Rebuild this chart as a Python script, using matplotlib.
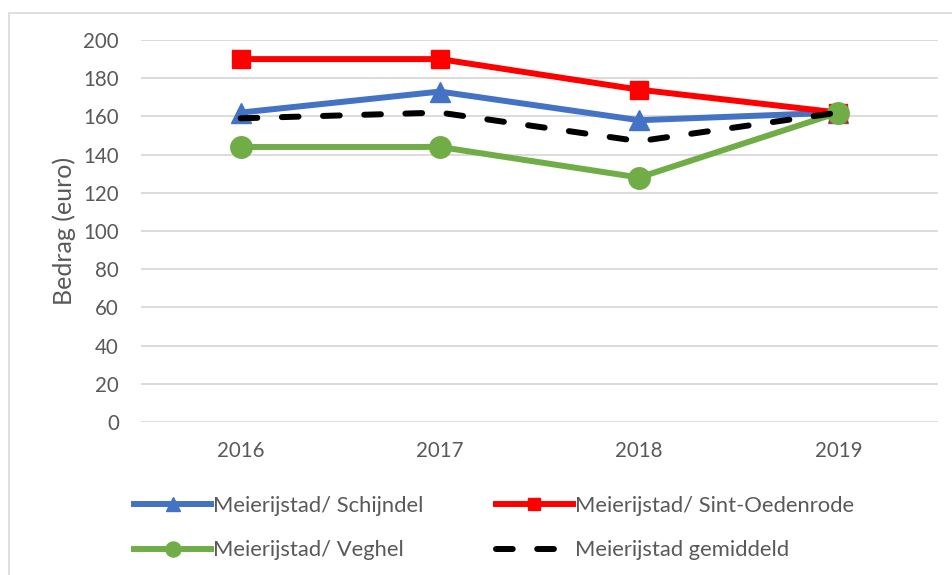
import matplotlib.pyplot as plt
from matplotlib.patches import Rectangle

# data
jaren = ['2016', '2017', '2018', '2019']
schijndel = [162, 173, 158, 162]
sint_oedenrode = [190, 190, 174, 162]
veghel = [144, 144, 128, 162]
gemiddeld = [159, 162, 147, 162]

plt.rcParams['font.family'] = ['Lato', 'DejaVu Sans']
tekst = '#595959'

fig = plt.figure(figsize=(9.52, 5.75), dpi=100)
ax = fig.add_axes([141/952, 1-422/575, 797/952, 382/575])

x = range(len(jaren))
lw = 4.3
l1, = ax.plot(x, schijndel, color='#4472C4', lw=lw, marker='^', ms=14, label='Meierijstad/ Schijndel')
l2, = ax.plot(x, sint_oedenrode, color='#FF0000', lw=lw, marker='s', ms=12.5, label='Meierijstad/ Sint-Oedenrode')
l3, = ax.plot(x, veghel, color='#70AD47', lw=lw, marker='o', ms=15.5, label='Meierijstad/ Veghel')
l4, = ax.plot(x, gemiddeld, color='black', lw=lw, linestyle=(0, (2.8, 4.1)), dash_capstyle='round',
              label='Meierijstad gemiddeld')

ax.set_xlim(-0.5, len(jaren) - 0.5)
ax.set_ylim(0, 200)
ax.set_yticks(range(0, 201, 20))
ax.set_xticks(list(x))
ax.set_xticklabels(jaren)
ax.tick_params(length=0, labelsize=14.8, colors=tekst, pad=16)
ax.tick_params(axis='x', pad=14)
ax.grid(axis='y', color='#D9D9D9', lw=1.3)
ax.set_axisbelow(True)
for s in ax.spines.values():
    s.set_visible(False)
ax.set_ylabel('Bedrag (euro)', fontsize=18, color=tekst, labelpad=5)

# legend filled row by row, like the original
handles = [l1, l3, l2, l4]
fig.legend(handles, [h.get_label() for h in handles], loc='center', bbox_to_anchor=(0.519, 1-528/575),
           ncol=2, frameon=False, fontsize=15.8, labelcolor=tekst, handlelength=3.5,
           handletextpad=0.1, columnspacing=3.3, labelspacing=1.12, markerscale=0.7)

# chart border
fig.patches.append(Rectangle((9/952, -0.1), 1.2, 1.1 - 13/575,
                             transform=fig.transFigure, fill=False, ec='#D9D9D9', lw=1.2))

fig.savefig('out.png', dpi=100)
